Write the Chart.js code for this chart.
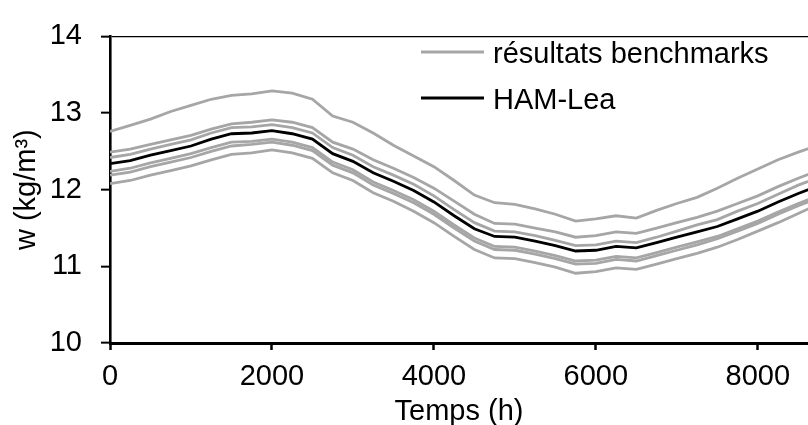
<!DOCTYPE html>
<html>
<head>
	<meta charset="utf-8">
	<title>w - Temps</title>
	<script src="https://cdn.jsdelivr.net/npm/chart.js@4/dist/chart.umd.min.js"></script>
	<style>
		body { margin: 0; background: #fff; }
	</style>
</head>
<body>
	<canvas id="chart" width="808" height="425"></canvas>
	<script>
	// temps en heures (un point toutes les 250 h)
	var heures = [0,250,500,750,1000,1250,1500,1750,2000,2250,2500,2750,3000,3250,3500,3750,4000,4250,
		4500,4750,5000,5250,5500,5750,6000,6250,6500,6750,7000,7250,7500,7750,8000,8250,8500,8750];

	// graduations de l'axe des temps
	var ticksTemps = [0, 2000, 4000, 6000, 8000];

	// HAM-Lea
	var hamLea = [12.34,12.38,12.45,12.51,12.57,12.66,12.73,12.74,12.77,12.73,12.66,12.47,12.37,12.22,12.11,11.99,11.84,11.66,
		11.49,11.39,11.38,11.33,11.27,11.20,11.21,11.26,11.24,11.31,11.38,11.45,11.52,11.62,11.72,11.84,11.95,12.05];

	// resultats benchmarks (6 courbes)
	var bench1 = [12.76,12.84,12.92,13.02,13.10,13.18,13.23,13.25,13.29,13.26,13.18,12.96,12.88,12.74,12.58,12.44,12.30,12.12,
		11.93,11.83,11.81,11.75,11.68,11.59,11.62,11.66,11.63,11.73,11.82,11.90,12.02,12.15,12.27,12.39,12.49,12.58];
	var bench2 = [12.49,12.53,12.59,12.65,12.71,12.79,12.86,12.88,12.91,12.88,12.81,12.62,12.53,12.39,12.28,12.16,12.02,11.85,
		11.68,11.56,11.55,11.50,11.45,11.38,11.40,11.45,11.43,11.50,11.57,11.64,11.72,11.82,11.92,12.04,12.15,12.25];
	var bench3 = [12.42,12.46,12.53,12.59,12.65,12.74,12.81,12.82,12.85,12.81,12.74,12.55,12.45,12.30,12.19,12.07,11.92,11.74,
		11.57,11.46,11.45,11.40,11.34,11.27,11.28,11.33,11.31,11.38,11.46,11.54,11.61,11.72,11.82,11.94,12.06,12.16];
	var bench4 = [12.24,12.28,12.35,12.41,12.47,12.55,12.62,12.63,12.66,12.62,12.55,12.36,12.26,12.10,11.99,11.87,11.72,11.54,
		11.37,11.26,11.25,11.20,11.14,11.07,11.08,11.13,11.11,11.18,11.25,11.32,11.39,11.49,11.59,11.71,11.82,11.92];
	var bench5 = [12.19,12.23,12.30,12.36,12.42,12.50,12.57,12.59,12.62,12.58,12.51,12.32,12.22,12.06,11.95,11.83,11.68,11.50,
		11.33,11.22,11.21,11.16,11.10,11.03,11.04,11.09,11.07,11.14,11.21,11.28,11.36,11.46,11.56,11.68,11.79,11.89];
	var bench6 = [12.08,12.12,12.19,12.25,12.31,12.39,12.46,12.48,12.52,12.48,12.41,12.22,12.12,11.96,11.85,11.72,11.57,11.39,
		11.22,11.11,11.10,11.05,10.99,10.91,10.93,10.98,10.96,11.03,11.10,11.17,11.25,11.35,11.46,11.57,11.69,11.81];

	var benchs = [bench1, bench2, bench3, bench4, bench5, bench6];

	var GRIS = '#a6a6a6';
	var NOIR = '#000000';
	var police = '"Liberation Sans", Arial, sans-serif';
	var taille = 29;

	function points(valeurs) {
		return heures.map(function(h, i){ return {x: h, y: valeurs[i]}; });
	}

	var datasets = [{
		label: 'HAM-Lea',
		data: points(hamLea),
		borderColor: NOIR,
		borderWidth: 2.8,
		order: 0
	}];
	benchs.forEach(function(b){
		datasets.push({
			label: 'résultats benchmarks',
			data: points(b),
			borderColor: GRIS,
			borderWidth: 2.8,
			order: 1
		});
	});

	// legende dessinee dans la zone du graphique
	var legendeInterne = {
		id: 'legendeInterne',
		afterDraw: function(chart){
			var ctx = chart.ctx;
			var vus = {};
			var items = [];
			chart.data.datasets.slice().sort(function(a, b){ return b.order - a.order; }).forEach(function(ds){
				if (!vus[ds.label]) { vus[ds.label] = true; items.push(ds); }
			});
			ctx.save();
			ctx.font = taille + 'px ' + police;
			ctx.textBaseline = 'alphabetic';
			ctx.fillStyle = NOIR;
			items.forEach(function(ds, i){
				var y = 52 + i * 46;
				ctx.strokeStyle = ds.borderColor;
				ctx.lineWidth = 2.8;
				ctx.beginPath();
				ctx.moveTo(421, y);
				ctx.lineTo(484, y);
				ctx.stroke();
				ctx.fillText(ds.label, 493, y + 11);
			});
			ctx.restore();
		}
	};

	var canvas = document.getElementById('chart').getContext('2d');
	new Chart(canvas, {
		type: 'line',
		data: { datasets: datasets },
		plugins: [legendeInterne],
		options: {
			responsive: false,
			animation: false,
			devicePixelRatio: 1,
			layout: { padding: { top: 25, right: 0, left: 0, bottom: 0 } },
			elements: {
				point: { radius: 0 },
				line: { tension: 0 }
			},
			plugins: {
				legend: { display: false },
				tooltip: { enabled: false }
			},
			scales: {
				x: {
					type: 'linear',
					min: 0,
					max: 8620,
					afterFit: function(scale){ scale.height = 82; },
					afterBuildTicks: function(scale){
						scale.ticks = ticksTemps.map(function(v){ return {value: v}; });
					},
					ticks: {
						autoSkip: false,
						color: NOIR,
						padding: 10,
						maxRotation: 0,
						font: { family: police, size: taille },
						callback: function(v){ return String(v); }
					},
					grid: {
						drawOnChartArea: false,
						tickLength: 7,
						tickColor: NOIR,
						tickWidth: 2.5
					},
					border: { color: NOIR, width: 3 },
					title: {
						display: true,
						text: 'Temps (h)',
						color: NOIR,
						padding: { top: 0, bottom: -4 },
						font: { family: police, size: taille }
					}
				},
				y: {
					min: 10,
					max: 14,
					afterFit: function(scale){ scale.width = 110; },
					ticks: {
						stepSize: 1,
						color: NOIR,
						padding: 19,
						font: { family: police, size: taille }
					},
					grid: {
						color: function(c){ return c.tick && c.tick.value === 14 ? NOIR : 'rgba(0,0,0,0)'; },
						lineWidth: 1.3,
						tickLength: 9,
						tickColor: NOIR,
						tickWidth: 2
					},
					border: { color: NOIR, width: 2.6 },
					title: {
						display: true,
						text: 'w (kg/m³)',
						color: NOIR,
						padding: { top: 10, bottom: 0 },
						font: { family: police, size: taille }
					}
				}
			}
		}
	});
	</script>
</body>
</html>
